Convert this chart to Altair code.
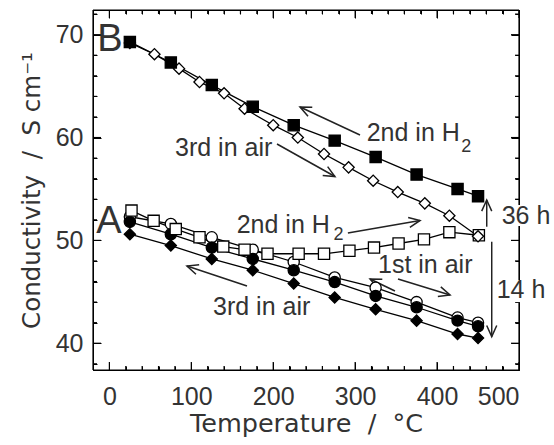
import math
import altair as alt
import pandas as pd

# ---------------- data ----------------
T10 = [25, 75, 125, 175, 225, 275, 325, 375, 425, 450]

# B: 2nd in H2 (filled squares)
B_h2 = [69.3, 67.3, 65.1, 63.0, 61.2, 59.7, 58.1, 56.4, 55.0, 54.3]

# B: 3rd in air (open diamonds)
T_B_air3 = [25, 55, 85, 110, 140, 165, 200, 230, 262, 292, 322, 352, 385, 415, 450]
B_air3 = [69.2, 68.1, 66.7, 65.4, 64.3, 62.8, 61.2, 60.0, 58.4, 57.1, 55.8, 54.7, 53.6, 52.4, 50.4]

# A: 2nd in H2 (open squares)
T_A_h2 = [27, 54, 81, 110, 139, 165, 193, 231, 262, 293, 323, 353, 384, 415, 451]
A_h2 = [52.9, 51.9, 51.1, 50.3, 49.4, 49.1, 48.7, 48.7, 48.7, 49.0, 49.3, 49.7, 50.1, 50.8, 50.5]

# A: 1st in air (open circles = one direction, filled circles = other)
A_air1_open = [52.3, 51.6, 50.3, 49.1, 47.9, 46.4, 45.4, 44.0, 42.5, 42.0]
A_air1_fill = [51.8, 50.6, 49.3, 48.2, 47.1, 45.95, 44.6, 43.5, 42.2, 41.65]

# A: 3rd in air (filled diamonds)
A_air3 = [50.6, 49.5, 48.2, 47.1, 45.8, 44.45, 43.3, 42.2, 40.9, 40.5]

# axis ticks
x_major = [0, 100, 200, 300, 400, 500]
x_minor = [20, 40, 60, 80, 120, 140, 160, 180, 220, 240, 260, 280,
           320, 340, 360, 380, 420, 440, 460, 480]
y_major = [40, 50, 60, 70]
y_minor = [38, 42, 44, 46, 48, 52, 54, 56, 58, 62, 64, 66, 68, 72]

# annotations
big_text = ["B", "A"]
big_x = [0.7, -0.5]
big_y = [69.48, 51.82]

ann_text = ["2nd in H", "3rd in air", "2nd in H", "1st in air", "3rd in air", "36 h", "14 h"]
ann_x = [314.1, 80.1, 155.4, 327.9, 126.5, 478.9, 472.8]
ann_y = [60.49, 59.03, 51.5, 47.56, 43.57, 52.42, 45.13]

sub_text = ["2", "2"]
sub_x = [429.5, 273.5]
sub_y = [59.05, 50.5]

# arrows: tail (x1, y1) -> head (x2, y2)
arr_x1 = [305.9, 204.6, 291.1, 348.6, 352.3, 168.0, 460.6, 466.7]
arr_y1 = [60.25, 59.37, 50.72, 45.08, 46.25, 45.57, 51.33, 49.87]
arr_x2 = [232.7, 275.3, 379.2, 318.2, 415.8, 94.7, 460.6, 466.7]
arr_y2 = [62.97, 56.21, 51.94, 46.25, 44.69, 47.51, 53.93, 40.64]

# ---------------- layout ----------------
W, H = 426, 360
XD = [-20, 500]
YD = [37.4, 72.4]
FONT = "Liberation Sans"
TFONT = "DejaVu Sans"
TXT = "#333333"
LN = "black"
NB = "\u00a0"

pxT = W / (XD[1] - XD[0])   # pixels per degree
pxC = H / (YD[1] - YD[0])   # pixels per S/cm

xs = alt.Scale(domain=XD, nice=False, zero=False)
ys = alt.Scale(domain=YD, nice=False, zero=False)

rows = []
def add(name, ts, cs):
    for t, c in zip(ts, cs):
        rows.append({"series": name, "T": t, "C": c})

add("A_air1_open", T10, A_air1_open)
add("A_air1_fill", T10, A_air1_fill)
add("A_air3", T10, A_air3)
add("A_h2", T_A_h2, A_h2)
add("B_air3", T_B_air3, B_air3)
add("B_h2", T10, B_h2)
df = pd.DataFrame(rows)
df["ord"] = range(len(df))

series_names = ["A_air1_open", "A_air1_fill", "A_air3", "A_h2", "B_air3", "B_h2"]
shapes = ["circle", "circle", "diamond", "square", "diamond", "square"]
fills = ["white", "black", "black", "white", "white", "black"]
sizes = [125, 125, 180, 115, 180, 115]


def frame_axis(orient, values, ln, domain, **kw):
    return alt.Axis(orient=orient, values=values, grid=False,
                    domain=domain, domainColor=LN,
                    ticks=True, tickColor=LN,
                    tickSize={"expr": str(-ln)}, **kw)


X = alt.X("T:Q", scale=xs, axis=frame_axis(
    "bottom", x_major, 8, True,
    labelFontSize=25, labelColor=TXT, labelFont=FONT, labelPadding=22,
    title=f"Temperature{NB}{NB}/{NB}{NB}°C", titleFontSize=25.5, titleFont=TFONT,
    titleFontWeight="normal", titleColor=TXT, titlePadding=2))
Y = alt.Y("C:Q", scale=ys, axis=frame_axis(
    "left", y_major, 8, True,
    labelFontSize=25, labelColor=TXT, labelFont=FONT, labelPadding=18,
    title=f"Conductivity{NB}{NB}/{NB}{NB}S{NB}cm⁻¹", titleFontSize=24.5, titleFont=TFONT,
    titleFontWeight="normal", titleColor=TXT, titlePadding=11))


def qx(field):
    return alt.X(field, scale=xs, axis=None)


def qy(field):
    return alt.Y(field, scale=ys, axis=None)


base = alt.Chart(df)
lines = base.mark_line(color="black", strokeWidth=1.3).encode(
    x=X, y=Y, detail="series:N", order="ord:Q")
points = base.mark_point(stroke="black", strokeWidth=1.3, opacity=1).encode(
    x=qx("T:Q"), y=qy("C:Q"),
    shape=alt.Shape("series:N", scale=alt.Scale(domain=series_names, range=shapes), legend=None),
    fill=alt.Fill("series:N", scale=alt.Scale(domain=series_names, range=fills), legend=None),
    size=alt.Size("series:N", scale=alt.Scale(domain=series_names, range=sizes), legend=None),
    order="ord:Q")

# extra (label-less) axes: top/right frame lines and minor ticks on all sides
def ghost(xaxis, yaxis):
    return base.mark_point(opacity=0).encode(
        x=alt.X("T:Q", scale=xs, axis=xaxis),
        y=alt.Y("C:Q", scale=ys, axis=yaxis))

g_top_right = ghost(frame_axis("top", x_major, 8, True, labels=False, title=None),
                    frame_axis("right", y_major, 8, True, labels=False, title=None))
g_minor_bl = ghost(frame_axis("bottom", x_minor, 4, False, labels=False, title=None),
                   frame_axis("left", y_minor, 4, False, labels=False, title=None))
g_minor_tr = ghost(frame_axis("top", x_minor, 4, False, labels=False, title=None),
                   frame_axis("right", y_minor, 4, False, labels=False, title=None))

# the same frame and inward ticks as plain segments (drawn on top of the axes)
seg = []
seg.append({"x1": XD[0], "x2": XD[1], "y1": YD[0], "y2": YD[0]})
seg.append({"x1": XD[0], "x2": XD[1], "y1": YD[1], "y2": YD[1]})
seg.append({"x1": XD[0], "x2": XD[0], "y1": YD[0], "y2": YD[1]})
seg.append({"x1": XD[1], "x2": XD[1], "y1": YD[0], "y2": YD[1]})
for vals, ln in [(x_major, 8), (x_minor, 4)]:
    for v in vals:
        seg.append({"x1": v, "x2": v, "y1": YD[0], "y2": YD[0] + ln / pxC})
        seg.append({"x1": v, "x2": v, "y1": YD[1], "y2": YD[1] - ln / pxC})
for vals, ln in [(y_major, 8), (y_minor, 4)]:
    for v in vals:
        seg.append({"x1": XD[0], "x2": XD[0] + ln / pxT, "y1": v, "y2": v})
        seg.append({"x1": XD[1], "x2": XD[1] - ln / pxT, "y1": v, "y2": v})
sdf = pd.DataFrame(seg)
frame_lines = alt.Chart(sdf).mark_rule(color=LN, strokeWidth=1.2).encode(
    x=qx("x1:Q"), y=qy("y1:Q"), x2="x2:Q", y2="y2:Q")

# arrows
adf = pd.DataFrame({"x1": arr_x1, "y1": arr_y1, "x2": arr_x2, "y2": arr_y2})
adf["ang"] = [
    (math.degrees(math.atan2(-(b2 - b1) * pxC, (a2 - a1) * pxT)) + 360) % 360
    for a1, b1, a2, b2 in zip(arr_x1, arr_y1, arr_x2, arr_y2)
]
shafts = alt.Chart(adf).mark_rule(color="#222", strokeWidth=1.5).encode(
    x=qx("x1:Q"), y=qy("y1:Q"), x2="x2:Q", y2="y2:Q")
heads = alt.Chart(adf).mark_point(
    shape="M -1 -0.45 L 0 0 L -1 0.45", filled=False, stroke="#222",
    strokeWidth=1.5, size=500, opacity=1).encode(
    x=qx("x2:Q"), y=qy("y2:Q"), angle=alt.Angle("ang:Q", scale=None))

# white patches where the side labels cross the frame
mask_y1 = [53.44, 46.15]
mask_y2 = [51.4, 44.0]
mdf = pd.DataFrame({"a": mask_y1, "b": mask_y2})
mdf["l"] = XD[1] - 12 / pxT
mdf["r"] = XD[1] + 10 / pxT
masks = alt.Chart(mdf).mark_rect(color="white", opacity=1).encode(
    y=qy("a:Q"), y2="b:Q", x=qx("l:Q"), x2="r:Q")

# texts
big = alt.Chart(pd.DataFrame({"t": big_text, "x": big_x, "y": big_y})).mark_text(
    fontSize=38, font=FONT, color=TXT, align="center", baseline="middle").encode(
    x=qx("x:Q"), y=qy("y:Q"), text="t:N")
ann = alt.Chart(pd.DataFrame({"t": ann_text, "x": ann_x, "y": ann_y})).mark_text(
    fontSize=25, font=FONT, color=TXT, align="left", baseline="middle").encode(
    x=qx("x:Q"), y=qy("y:Q"), text="t:N")
sub = alt.Chart(pd.DataFrame({"t": sub_text, "x": sub_x, "y": sub_y})).mark_text(
    fontSize=18, font=FONT, color=TXT, align="left", baseline="middle").encode(
    x=qx("x:Q"), y=qy("y:Q"), text="t:N")

chart = alt.layer(
    lines, g_top_right, g_minor_bl, g_minor_tr, frame_lines,
    shafts, heads, points, masks, big, ann, sub
).resolve_axis(x="independent", y="independent").properties(
    width=W, height=H,
    background="white",
    autosize=alt.AutoSizeParams(type="none"),
    padding={"left": 93, "top": 10, "right": 35, "bottom": 75},
).configure_view(stroke=LN, strokeWidth=1)

chart.save("out.html", embed_options={"renderer": "svg", "actions": False})
